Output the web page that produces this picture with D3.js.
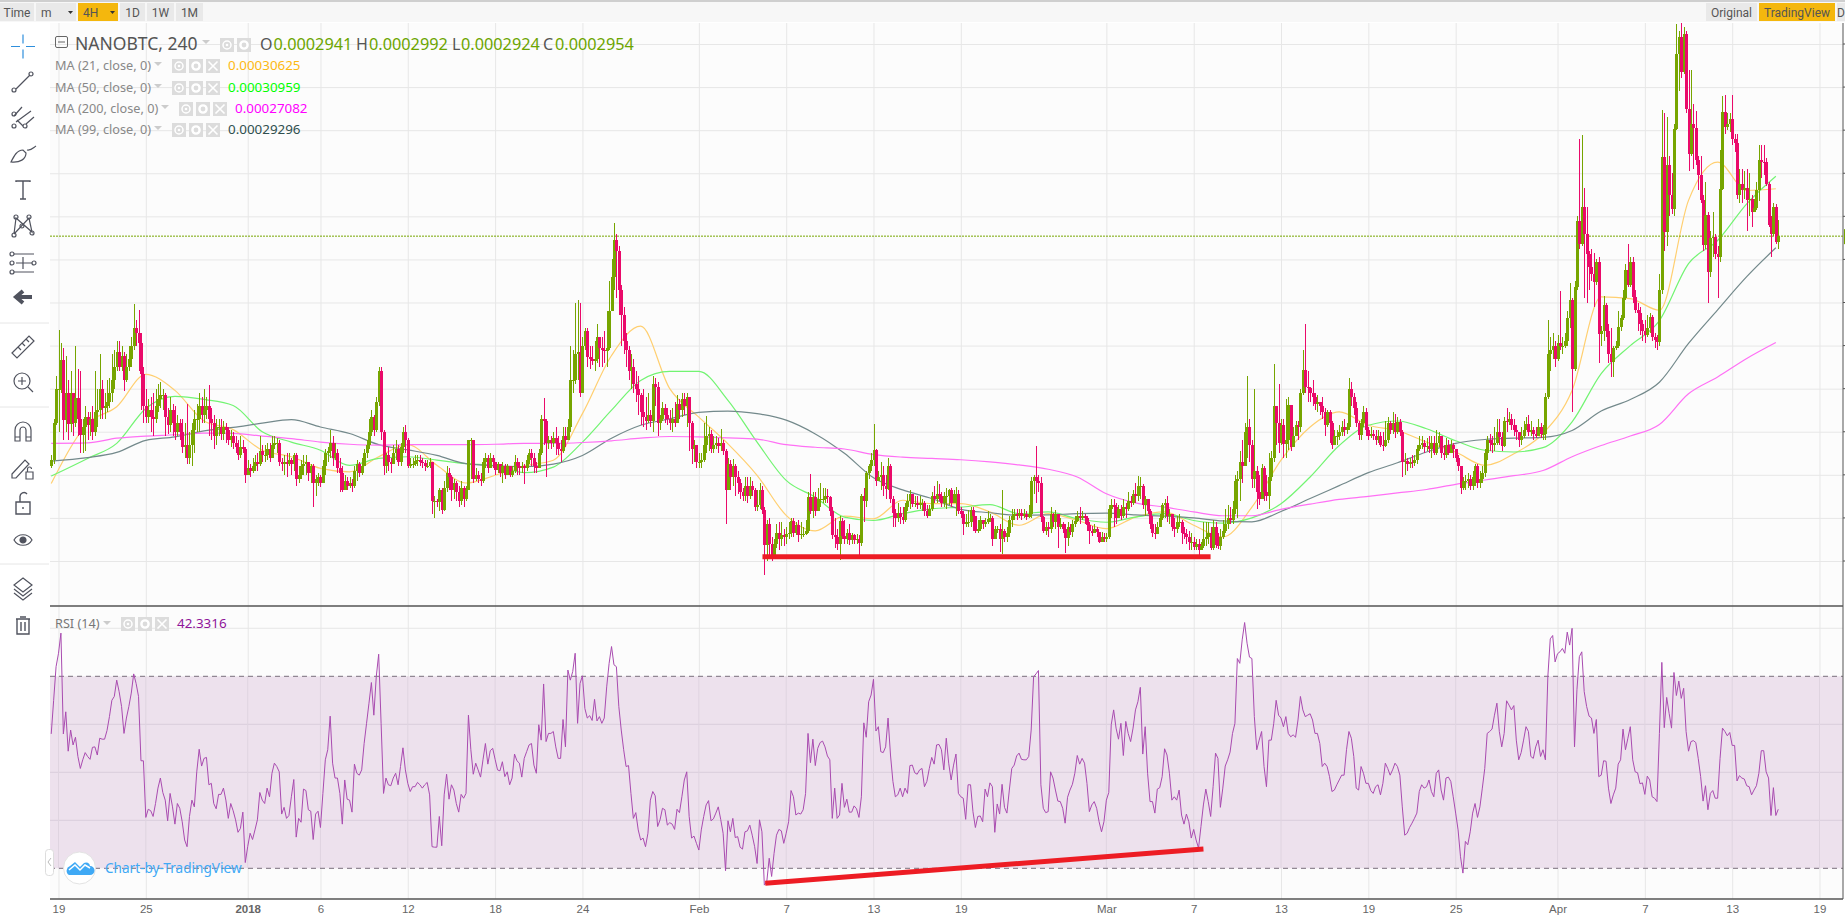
<!DOCTYPE html>
<html>
<head>
<meta charset="utf-8">
<script src="https://cdn.jsdelivr.net/npm/d3@7"></script>
<style>
  body { margin: 0; background: #fff; overflow: hidden; }
  svg { display: block; font-family: "Noto Sans", "Open Sans", sans-serif; }
</style>
</head>
<body>
<div id="chart"></div>
<script>
// NANOBTC 4H, prices are in units of 0.0000001 BTC
// first close is only there so the first bar has an open

// closes, one row per day (first row is the last three bars of Dec 18)
const closes = [2420,
  2435,2520,2600,
  2600,2667,2528,2590,2517,2590,
  2520,2578,2530,2492,2510,2535,
  2515,2530,2500,2545,2550,2600,
  2555,2560,2570,2590,2620,2650,
  2685,2650,2675,2620,2650,2670,
  2700,2740,2730,2705,2635,2560,
  2535,2550,2535,2530,2560,2575,
  2585,2585,2535,2515,2550,2520,
  2500,2520,2500,2465,2470,2440,
  2470,2505,2530,2530,2560,2540,
  2550,2560,2530,2520,2490,2510,
  2510,2495,2510,2505,2480,2490,
  2475,2465,2445,2465,2460,2400,
  2415,2410,2420,2430,2425,2455, // Jan 1
  2445,2445,2460,2440,2470,2475,
  2475,2430,2425,2430,2425,2435,
  2425,2445,2390,2400,2420,2425,
  2430,2405,2420,2380,2390,2395,
  2380,2420,2450,2455,2475,2440,
  2450,2415,2405,2365,2385,2375,
  2380,2375,2410,2425,2405,2420,
  2450,2470,2500,2535,2505,2570,
  2640,2500,2420,2445,2430,2425,
  2450,2460,2430,2465,2500,2480,
  2420,2425,2425,2432,2435,2430,
  2428,2420,2420,2430,2340,2340,
  2338,2365,2318,2370,2405,2395,
  2365,2380,2360,2340,2370,2345,
  2365,2480,2480,2390,2400,2390,
  2385,2430,2440,2415,2440,2430,
  2412,2425,2405,2420,2400,2420,
  2400,2410,2430,2420,2415,2420,
  2415,2435,2450,2440,2420,2415,
  2450,2530,2525,2475,2480,2475,
  2485,2475,2460,2455,2490,2480,
  2510,2620,2620,2680,2685,2590,
  2700,2735,2674,2668,2665,2668,
  2720,2695,2690,2687,2695,2780,
  2860,2945,2920,2830,2770,2710,
  2690,2640,2650,2610,2600,2585,
  2545,2535,2525,2540,2525,2610,
  2605,2520,2530,2555,2540,2530,
  2520,2530,2520,2565,2550,2575,
  2560,2580,2520,2460,2470,2430,
  2430,2435,2470,2490,2495,2460, // Feb 1
  2470,2475,2468,2475,2455,2365,
  2425,2395,2420,2395,2380,2360,
  2350,2375,2350,2375,2365,2325,
  2330,2365,2318,2236,2287,2240,
  2215,2240,2265,2250,2260,2255,
  2262,2264,2294,2265,2283,2260,
  2262,2262,2270,2348,2315,2348,
  2315,2345,2345,2345,2350,2348,
  2315,2260,2255,2240,2294,2258,
  2250,2265,2248,2260,2248,2250,
  2242,2350,2340,2405,2420,2435,
  2457,2385,2395,2400,2375,2368,
  2420,2345,2312,2300,2312,2302,
  2295,2325,2340,2355,2332,2335,
  2330,2335,2335,2315,2305,2320,
  2350,2345,2355,2352,2335,2350,
  2350,2365,2335,2355,2355,2315,
  2310,2285,2290,2290,2318,2305,
  2270,2275,2295,2285,2290,2298,
  2300,2252,2275,2275,2250,2270,
  2255,2265,2295,2305,2310,2305,
  2312,2305,2308,2303,2310,2385,
  2395,2385,2380,2303,2270,2280,
  2275,2310,2290,2310,2280,2285,
  2275,2253,2280,2268,2285,2292,
  2305,2300,2305,2300,2283,2270,
  2265,2275,2268,2245,2255,2250,
  2255,2320,2330,2325,2300,2320, // Mar 1
  2305,2325,2320,2340,2335,2355,
  2350,2375,2375,2330,2345,2315,
  2285,2265,2262,2280,2300,2330,
  2335,2305,2310,2280,2275,2290,
  2290,2265,2262,2255,2245,2245,
  2232,2240,2225,2235,2250,2255,
  2265,2230,2280,2238,2235,2255,
  2270,2285,2300,2295,2320,2385,
  2390,2430,2420,2500,2510,2470,
  2390,2410,2360,2345,2415,2360,
  2350,2395,2440,2560,2520,2475,
  2515,2472,2480,2561,2465,2490,
  2515,2510,2589,2643,2604,2602,
  2590,2580,2565,2570,2560,2545,
  2515,2545,2520,2470,2490,2490,
  2500,2510,2505,2510,2600,2580,
  2555,2520,2492,2520,2546,2503,
  2490,2495,2490,2480,2490,2470,
  2468,2480,2520,2505,2520,2500,
  2522,2500,2430,2432,2425,2430,
  2428,2435,2460,2470,2475,2465,
  2468,2460,2475,2450,2475,2490,
  2450,2445,2470,2450,2470,2460,
  2440,2420,2370,2385,2385,2390,
  2375,2395,2420,2380,2390,2405,
  2450,2480,2475,2470,2475,2500,
  2488,2468,2526,2522,2530,2515,
  2505,2500,2480,2490,2505,2519,
  2500,2505,2495,2490,2510,2495,
  2495,2580,2680,2690,2700,2670,
  2705,2700,2700,2710,2765,2805, // Apr 1
  2646,2836,2990,2935,3021,2960,
  2913,2882,2865,2847,2895,2728,
  2735,2795,2735,2680,2662,2695,
  2700,2743,2765,2810,2875,2840,
  2895,2813,2782,2775,2750,2735,
  2725,2740,2766,2720,2712,2708,
  2828,3137,2964,3118,3050,3018,
  3203,3377,3416,3335,3424,3250,
  3145,3215,3205,3130,3095,3037,
  2933,3002,2871,2950,2952,2913,
  2905,3064,3242,3207,3215,3226,
  3180,3170,3049,3075,3060,3065,
  3037,3040,3010,3020,3060,3130,
  3127,3125,3076,2979,2960,3022,
  2941,2954];

const highs = [
  2445,2530,2630,
  2737,2705,2694,2675,2620,2640,
  2590,2698,2645,2640,2530,2560,
  2545,2545,2560,2640,2600,2680,
  2620,2590,2620,2625,2680,2690,
  2710,2710,2700,2685,2680,2700,
  2720,2797,2760,2782,2730,2650,
  2600,2575,2580,2590,2600,2610,
  2615,2600,2590,2555,2580,2565,
  2560,2540,2530,2530,2520,2565,
  2500,2520,2550,2565,2590,2580,
  2600,2580,2608,2555,2540,2530,
  2530,2530,2525,2520,2510,2505,
  2500,2490,2480,2490,2480,2465,
  2435,2425,2440,2445,2450,2490,
  2470,2470,2475,2475,2490,2490,
  2485,2480,2440,2445,2450,2450,
  2440,2450,2450,2420,2435,2445,
  2445,2430,2425,2425,2400,2405,
  2400,2435,2460,2465,2504,2490,
  2475,2460,2440,2420,2400,2395,
  2395,2390,2420,2435,2430,2440,
  2460,2480,2530,2550,2540,2580,
  2650,2650,2505,2450,2465,2440,
  2470,2480,2470,2475,2510,2515,
  2485,2440,2440,2445,2445,2445,
  2440,2435,2435,2440,2415,2350,
  2345,2370,2370,2385,2420,2415,
  2400,2390,2385,2375,2385,2375,
  2375,2482,2485,2480,2415,2410,
  2405,2440,2450,2445,2450,2445,
  2430,2430,2425,2430,2425,2425,
  2420,2420,2445,2440,2430,2430,
  2425,2445,2460,2460,2450,2430,
  2460,2540,2578,2530,2490,2490,
  2500,2510,2490,2480,2510,2510,
  2530,2700,2690,2800,2805,2800,
  2720,2740,2740,2700,2700,2710,
  2750,2715,2720,2735,2780,2850,
  2900,2985,2960,2930,2840,2790,
  2730,2700,2680,2670,2640,2630,
  2590,2600,2580,2590,2550,2630,
  2625,2615,2540,2570,2565,2555,
  2550,2555,2570,2585,2575,2590,
  2590,2590,2580,2525,2480,2465,
  2450,2450,2520,2537,2510,2505,
  2490,2490,2485,2507,2480,2460,
  2440,2435,2437,2425,2410,2390,
  2370,2395,2395,2395,2385,2370,
  2365,2380,2375,2325,2295,2300,
  2255,2250,2285,2290,2290,2275,
  2280,2290,2300,2300,2290,2295,
  2290,2280,2295,2360,2403,2360,
  2360,2370,2380,2370,2370,2368,
  2352,2325,2300,2275,2305,2300,
  2295,2275,2285,2265,2262,2262,
  2260,2355,2370,2410,2425,2450,
  2518,2460,2410,2430,2420,2400,
  2440,2425,2350,2320,2335,2325,
  2325,2335,2355,2365,2352,2350,
  2350,2350,2345,2340,2330,2330,
  2360,2375,2385,2378,2360,2360,
  2370,2368,2370,2365,2372,2365,
  2325,2315,2310,2318,2325,2325,
  2300,2295,2305,2295,2300,2315,
  2310,2305,2282,2282,2285,2364,
  2275,2280,2305,2320,2320,2320,
  2320,2320,2320,2315,2330,2395,
  2400,2468,2400,2396,2305,2290,
  2290,2325,2312,2318,2310,2300,
  2290,2285,2290,2285,2295,2305,
  2315,2325,2315,2310,2305,2290,
  2282,2285,2280,2268,2268,2265,
  2265,2330,2345,2345,2335,2330,
  2330,2345,2335,2360,2350,2365,
  2380,2398,2395,2378,2350,2345,
  2320,2305,2285,2290,2310,2335,
  2345,2350,2320,2310,2300,2305,
  2310,2295,2280,2275,2270,2265,
  2255,2250,2250,2245,2290,2290,
  2290,2280,2295,2290,2265,2275,
  2295,2320,2330,2325,2340,2400,
  2410,2455,2480,2520,2630,2530,
  2480,2600,2420,2400,2425,2420,
  2400,2450,2455,2658,2560,2610,
  2530,2530,2575,2580,2530,2510,
  2525,2525,2600,2690,2750,2640,
  2605,2620,2590,2585,2570,2580,
  2555,2550,2550,2525,2505,2505,
  2515,2525,2530,2520,2625,2615,
  2590,2570,2525,2530,2560,2555,
  2510,2510,2505,2505,2505,2500,
  2500,2525,2535,2525,2545,2542,
  2535,2530,2505,2450,2440,2440,
  2445,2445,2470,2490,2490,2480,
  2485,2490,2490,2490,2505,2500,
  2480,2470,2485,2480,2480,2475,
  2455,2445,2420,2395,2400,2405,
  2400,2410,2425,2425,2410,2420,
  2460,2490,2495,2490,2510,2530,
  2530,2500,2535,2555,2545,2542,
  2530,2515,2500,2510,2525,2535,
  2540,2525,2510,2510,2530,2520,
  2515,2590,2760,2720,2730,2710,
  2725,2826,2720,2730,2780,2845,
  2810,2850,3000,3180,3188,3065,
  3021,2920,2925,2915,2900,2905,
  2745,2815,2800,2750,2740,2700,
  2710,2780,2770,2830,2890,2935,
  2905,2905,2830,2800,2790,2760,
  2760,2770,2775,2770,2730,2725,
  2865,3246,3240,3230,3140,3100,
  3215,3447,3430,3450,3440,3430,
  3340,3340,3260,3245,3140,3140,
  3050,3079,3010,2965,3010,2960,
  2930,3155,3280,3282,3240,3240,
  3282,3190,3190,3110,3110,3105,
  3110,3100,3050,3040,3080,3165,
  3165,3165,3135,3080,3000,3030,
  3029,2992];

const lows = [
  2415,2425,2515,
  2500,2590,2480,2500,2480,2500,
  2490,2510,2490,2450,2450,2455,
  2480,2490,2480,2490,2510,2530,
  2530,2530,2545,2555,2570,2600,
  2640,2640,2640,2595,2615,2640,
  2650,2690,2700,2640,2550,2520,
  2520,2520,2500,2490,2520,2545,
  2555,2550,2490,2495,2500,2490,
  2480,2490,2480,2450,2440,2425,
  2425,2420,2450,2500,2500,2520,
  2520,2530,2490,2480,2460,2470,
  2490,2480,2480,2475,2470,2465,
  2460,2450,2435,2440,2450,2380,
  2400,2395,2405,2410,2410,2420,
  2430,2430,2435,2430,2440,2460,
  2450,2420,2410,2400,2395,2420,
  2400,2410,2375,2380,2390,2400,
  2400,2385,2380,2325,2352,2375,
  2372,2380,2400,2430,2440,2420,
  2435,2405,2360,2360,2365,2365,
  2370,2360,2370,2385,2395,2400,
  2420,2440,2460,2490,2490,2500,
  2560,2480,2400,2405,2410,2405,
  2430,2435,2420,2420,2450,2450,
  2415,2415,2415,2420,2420,2420,
  2415,2410,2415,2415,2310,2300,
  2325,2315,2310,2315,2360,2365,
  2340,2345,2340,2325,2330,2325,
  2340,2365,2390,2380,2385,2380,
  2375,2380,2415,2405,2415,2415,
  2400,2405,2395,2380,2390,2400,
  2395,2395,2405,2400,2400,2405,
  2378,2410,2425,2420,2405,2405,
  2415,2445,2470,2395,2460,2460,
  2465,2445,2445,2430,2450,2465,
  2480,2500,2590,2610,2620,2580,
  2640,2690,2650,2645,2655,2640,
  2660,2650,2650,2660,2650,2690,
  2780,2830,2810,2770,2700,2680,
  2650,2620,2600,2590,2570,2540,
  2515,2510,2505,2520,2510,2500,
  2560,2490,2505,2525,2520,2515,
  2505,2500,2510,2520,2530,2535,
  2540,2510,2455,2425,2430,2415,
  2415,2415,2430,2450,2455,2450,
  2450,2460,2450,2455,2445,2287,
  2365,2365,2375,2350,2355,2345,
  2340,2340,2335,2345,2350,2315,
  2315,2320,2310,2167,2200,2210,
  2200,2205,2230,2225,2235,2235,
  2240,2250,2255,2255,2260,2245,
  2250,2255,2260,2265,2310,2300,
  2305,2340,2325,2335,2335,2335,
  2305,2250,2230,2225,2202,2250,
  2240,2240,2238,2240,2240,2240,
  2215,2235,2290,2325,2390,2410,
  2420,2375,2385,2365,2350,2345,
  2365,2335,2280,2280,2290,2287,
  2285,2290,2315,2320,2325,2325,
  2320,2320,2315,2305,2300,2308,
  2315,2335,2335,2340,2325,2325,
  2320,2330,2325,2340,2305,2310,
  2300,2260,2280,2280,2280,2270,
  2265,2265,2270,2275,2280,2285,
  2290,2235,2250,2265,2220,2217,
  2245,2245,2255,2280,2295,2295,
  2300,2295,2300,2295,2300,2300,
  2355,2335,2360,2290,2265,2260,
  2255,2265,2280,2275,2230,2275,
  2265,2218,2235,2260,2255,2278,
  2290,2285,2295,2285,2270,2240,
  2258,2265,2255,2242,2245,2245,
  2245,2250,2300,2280,2285,2300,
  2295,2300,2300,2315,2325,2330,
  2335,2340,2345,2320,2305,2310,
  2275,2255,2250,2270,2280,2295,
  2300,2290,2285,2270,2255,2265,
  2280,2240,2250,2240,2225,2225,
  2225,2225,2215,2225,2230,2235,
  2240,2225,2225,2230,2228,2225,
  2250,2265,2275,2285,2285,2310,
  2300,2340,2380,2420,2440,2430,
  2370,2370,2320,2330,2350,2340,
  2340,2320,2385,2430,2470,2450,
  2470,2440,2440,2457,2455,2465,
  2495,2480,2500,2585,2590,2570,
  2570,2560,2550,2545,2540,2530,
  2490,2510,2475,2460,2475,2470,
  2480,2490,2490,2495,2505,2560,
  2540,2510,2480,2480,2510,2490,
  2480,2485,2480,2470,2475,2465,
  2455,2465,2475,2495,2495,2485,
  2495,2490,2395,2400,2410,2415,
  2415,2420,2425,2455,2460,2450,
  2455,2450,2440,2445,2445,2465,
  2440,2435,2440,2445,2450,2440,
  2430,2410,2355,2365,2365,2370,
  2365,2365,2375,2370,2370,2380,
  2395,2435,2455,2450,2455,2470,
  2470,2455,2465,2500,2515,2505,
  2490,2480,2465,2470,2485,2505,
  2490,2490,2480,2485,2490,2485,
  2480,2480,2575,2640,2670,2650,
  2665,2690,2680,2695,2700,2740,
  2546,2640,2830,2925,2930,2810,
  2800,2830,2850,2790,2840,2660,
  2700,2710,2720,2660,2627,2627,
  2690,2695,2735,2760,2805,2835,
  2835,2800,2775,2735,2725,2710,
  2705,2720,2730,2710,2695,2690,
  2700,2820,2920,2930,3000,3006,
  3000,3200,3290,3320,3330,3240,
  3105,3140,3110,3120,3060,3030,
  2920,2925,2800,2860,2905,2900,
  2810,2895,3060,3190,3200,3195,
  3165,3150,3040,3030,3030,3040,
  2967,3000,2975,3010,3015,3035,
  3090,3095,3070,2975,2905,2955,
  2935,2924];

// moving averages, read every two days (days counted from Dec 19)
const maDays = [-0.5,2,4,6,8,10,12,14,16,18,
  20,22,24,26,28,30,32,34,36,38,
  40,42,44,46,48,50,52,54,56,58,
  60,62,64,66,68,70,72,74,76,78,
  80,82,84,86,88,90,92,94,96,98,
  100,102,104,106,108,110,112,114,116,118];
const ma21 = [2380,2519,2558,2633,2596,2525,2505,2457,2442,2415,
  2407,2442,2470,2422,2381,2399,2421,2434,2542,2677,
  2745,2600,2534,2472,2399,2306,2270,2304,2298,2341,
  2333,2333,2314,2283,2310,2294,2275,2302,2314,2283,
  2256,2325,2434,2511,2546,2515,2503,2476,2453,2422,
  2449,2496,2596,2813,2809,2782,3037,3126,3060,3064];
const ma50 = [2397,2438,2473,2554,2582,2575,2561,2500,2476,2457,
  2422,2438,2442,2434,2426,2421,2405,2418,2476,2550,
  2619,2640,2640,2573,2476,2387,2348,2302,2294,2310,
  2321,2325,2331,2310,2314,2298,2290,2302,2310,2294,
  2288,2300,2333,2395,2468,2515,2525,2507,2479,2457,
  2453,2463,2523,2635,2700,2758,2890,2944,3029,3093];
const ma99 = [2432,2440,2452,2480,2488,2502,2510,2520,2528,2511,
  2496,2470,2458,2445,2426,2421,2419,2425,2445,2485,
  2515,2530,2545,2548,2542,2527,2495,2450,2393,2365,
  2345,2320,2312,2306,2307,2310,2311,2307,2304,2300,
  2293,2291,2315,2345,2375,2405,2428,2453,2473,2482,
  2485,2487,2503,2548,2575,2615,2705,2783,2860,2927];
const ma200 = [2473,2474,2485,2490,2493,2497,2496,2490,2484,2476,
  2471,2469,2470,2470,2470,2471,2473,2473,2475,2479,
  2485,2489,2488,2486,2483,2470,2464,2460,2447,2441,
  2438,2435,2430,2423,2413,2395,2356,2335,2325,2314,
  2305,2305,2320,2332,2343,2350,2358,2366,2378,2388,
  2398,2410,2442,2468,2490,2517,2588,2627,2670,2707];

// RSI (14), one value per bar, same rows as closes
const rsi = [
  58,65,72,
  74.8,79,58,62.6,54.4,58.8,
  55.7,57.3,53.3,50.8,52.6,54.1,
  53.3,52.7,55.2,55.3,53.6,57.1,
  56.9,56.9,58.7,61.6,65,65.8,
  69.2,66.8,63.7,58.1,61.3,63.7,
  66.5,70.5,68.5,65.8,52.4,52.4,
  40.6,42.3,42,40.8,43.5,46.7,
  48.8,45.8,44.2,39.9,45.6,42.8,
  39.2,43.5,42.5,39.7,35.9,34.5,
  40.8,44.2,42.8,50.1,54.8,51.3,
  52.9,53.1,47.4,47.7,43.5,42.4,
  45.4,45.4,46.7,44.2,40.4,43.5,
  42,40.1,37.5,38.3,41.7,31.2,
  34.5,37.3,36,38,40.1,45.8,
  44.2,43.5,46.7,44.9,49.8,51.9,
  51.2,50.1,41.3,42.7,40.4,41,
  44.9,48.5,36.5,40.4,39.6,46.5,
  46.2,42.2,41.9,36,41.3,41.9,
  38.5,45.6,52.6,54.7,61.7,51.9,
  48.8,48.8,45.6,39.2,48.4,44.4,
  44.2,41.7,51.7,49.8,49.4,50.5,
  56,60.2,64.4,68.7,61.9,69.9,
  74.6,60.2,45.6,48.8,47.4,47.2,
  48.8,49.8,47.4,51.2,55.1,50.5,
  47.7,46,47,47,47.9,47.4,
  46.7,47.4,47.9,45.3,34.5,34.4,
  34.4,40.8,34.7,45.3,49.6,44.4,
  47.4,46.3,43.5,41.7,45.4,44.6,
  45.6,61.9,54.7,49.6,51.9,50.5,
  49,52.6,56,51.7,54.5,55,
  52.7,50.5,50.3,52.2,49.1,50.1,
  47.4,48.8,53.8,52.4,51.9,49,
  52.9,54.3,55.7,56,51.5,49.8,
  59.9,56.7,68.4,56.4,58.1,58.1,
  58.5,55.3,52.9,52.9,61,55.3,
  71.3,69.2,71,74.8,60.2,68.5,
  70.1,63.3,61.3,61.8,60.8,65.2,
  60.7,61.6,60.2,61.3,67.8,72.7,
  76.2,72.4,72,63.7,58.8,54.7,
  51.2,51.4,45.6,40.4,41.6,38,
  35.9,36.3,34.5,37.3,44.2,46,
  45.1,38.7,40.1,42.5,42.2,39,
  39.5,39.2,38.1,42.3,41.6,44.9,
  48.4,50.1,40.8,36.3,36.7,35.2,
  33.8,38,40.8,43.2,44.1,39.9,
  40.3,41.5,42.8,40.2,37.3,29.5,
  39.9,37.6,40.4,36.4,36.6,34.4,
  34,37.6,37.8,39,36.9,34.5,
  31,40.1,37.6,26.5,27.2,32.1,
  28.3,33.1,36.9,38.1,37.8,35.2,
  37.3,39.7,46.2,44.9,41.1,41.5,
  41.3,42.2,45.6,58.1,52,56.9,
  51.4,55,56.2,56.5,55.3,53.4,
  52.6,40.4,46.7,40.4,41.1,47.7,
  42.7,44.4,41.7,41.7,43,42.4,
  40.6,44.9,60.3,57.3,64.7,66.1,
  69.4,58.6,59.5,54.3,54.1,55.3,
  61.3,53.6,48.1,44.9,45.3,46.7,
  44.9,46.7,45.6,51.4,51.5,49.9,
  49.6,50.5,50.8,47,48.1,50.8,
  53.1,51.7,55.7,55.8,54.7,50.5,
  57.1,51.9,48.4,51.5,53.8,45.6,
  44.9,44.6,40.2,47.4,47.4,41.8,
  38.5,40.8,40.9,39.7,46.5,44.9,
  47.8,47,37.5,43.4,41.3,47.5,
  42.7,41.5,46.3,50.8,51.5,53.4,
  54,52.7,52.6,52.6,53.3,58.8,
  69.9,70.5,71.2,47.4,42.5,41.6,
  41.8,50.1,48.8,46.3,44,43.9,
  42.5,39.4,44.8,46.3,47.5,49.8,
  53.5,51.7,52.9,51.9,47.7,41.8,
  43.2,43.9,42.5,39.7,37.6,39.7,
  44.2,45.8,59.9,63,59.2,56.9,
  60.2,53.5,60.6,58.1,56.4,59.2,
  63,64.7,67.7,53.8,59.5,49.8,
  43.9,43.9,41.5,46.5,46.8,49.1,
  54.9,53.6,49.8,44.2,44.9,44.2,
  46.3,41.1,39.2,41.3,39.7,36.3,
  38.1,35.9,34.2,38.7,43.2,46.5,
  43.9,40.8,47,54,52.9,42.7,
  46.7,51.3,52.6,54.2,58.1,60.2,
  73.7,72.7,77.6,81.2,76.9,74,
  73.7,61.6,54.7,56.7,58.5,51.2,
  47,56.7,56.7,60.2,65,61.9,
  61.3,59.5,61.6,58.1,57.4,57.8,
  57.3,60.9,65.8,63,61.6,61.9,
  62.2,60.9,58.1,58.1,56,51.2,
  51.9,51.2,49.1,46,46.3,47.4,
  48.4,49.4,49.4,54.7,58.5,57.1,
  53.3,46.7,46.3,51.2,49.8,47.7,
  47.7,46.2,45.6,47,47.4,45.3,
  47.7,51.9,50.8,49.4,50.5,51.9,
  51.2,49.4,42.8,36.9,37.3,38.5,
  39.4,40.4,41.5,46,47.4,46.7,
  47,48.4,46,44.9,49.8,50.5,
  46.3,44.2,48.8,49,48.1,44.9,
  41.5,38,32.4,29,35.6,34.9,
  37.6,41.5,43.5,40.6,42.8,46.7,
  50.8,58.1,58.5,59,61.9,64.4,
  58.5,55.3,58.1,64.9,64,63,
  63.9,56.7,52.6,54.1,56.7,59.5,
  58.5,53.3,52.9,55.3,56.7,53.3,
  54.7,52.6,69.9,77.8,78.5,73,
  74.7,75.1,75.8,74.8,79.2,76.5,
  80,55.3,67.2,74.1,75.1,66.8,
  63.7,61.7,61.3,58.1,61,49.1,
  49.4,52.4,52.3,46.7,43.5,45.3,
  46.7,51.7,52.6,59,54.7,57.1,
  59.5,52.6,50.1,49.9,47.6,47.8,
  45.4,49.2,48.4,44.9,44.6,43.9,
  58.1,72.9,59.3,65.6,62.3,59.2,
  70.8,66,69,65.4,67.5,58.5,
  54.4,56.4,56.6,56.2,52.9,49.1,
  44,47.2,42.2,45.6,46.2,44.6,
  44.6,52.9,59.2,58.5,57.6,58.3,
  55.6,55.6,48.2,49.3,48.8,48.6,
  47.2,47,45.3,46.3,47.2,49.8,
  54.5,54.5,50.1,48.8,41,46.8,
  41,42.3];

// axis stuff
const tickDates = ["2017-12-19","2017-12-25","2018-01-01","2018-01-06","2018-01-12","2018-01-18","2018-01-24",
  "2018-02-01","2018-02-07","2018-02-13","2018-02-19","2018-03-01","2018-03-07","2018-03-13","2018-03-19",
  "2018-03-25","2018-04-01","2018-04-07","2018-04-13","2018-04-19"];
const tickLabels = ["19","25","2018","6","12","18","24","Feb","7","13","19","Mar","7","13","19","25","Apr","7","13","19"];
const priceTicks = [2200,2300,2400,2500,2600,2700,2800,2900,3000,3100,3200,3300,3400];
const rsiTicks = [40,50,60,80];
const lastClose = 2954;

// the two hand drawn red lines: [day from Dec 19, value]
const supportLine = [[48.37,2210],[79.16,2210]];
const rsiTrendLine = [[48.56,26.9],[78.67,34]];

// legend text
const maLegend = [
  {name: "MA (21, close, 0)", value: "0.00030625", color: "#fdb913"},
  {name: "MA (50, close, 0)", value: "0.00030959", color: "#00ff00"},
  {name: "MA (200, close, 0)", value: "0.00027082", color: "#ff00ff"},
  {name: "MA (99, close, 0)", value: "0.00029296", color: "#2f4f4f"}
];
const ohlcLegend = [["O","0.0002941",260,273.5],["H","0.0002992",356,369],["L","0.0002924",452,461],["C","0.0002954",543,555]];
const leftButtons = [["Time",0,34,false],["m",36,76,false],["4H",78,118,true],["1D",120,145,false],["1W",147,174,false],["1M",176,203,false]];
const rightButtons = [["Original",1706,1757,false],["TradingView",1759,1835,true],["D",1837,1845,false]];

const WIDTH = 1845, HEIGHT = 919;
const LEFT = 50, RIGHT = 1843, TOP = 23, MAIN_BOTTOM = 606, RSI_BOTTOM = 899;
const UP = "#76a500", DOWN = "#ea0a6a", GRID = "#e7e7e7";

const svg = d3.select("#chart").append("svg")
  .attr("width", WIDTH)
  .attr("height", HEIGHT);

svg.append("rect").attr("width", WIDTH).attr("height", HEIGHT).attr("fill", "#fff");
svg.append("rect").attr("x", LEFT).attr("y", TOP)
  .attr("width", RIGHT - LEFT).attr("height", RSI_BOTTOM - TOP).attr("fill", "#fcfcfc");

// scales
const xScale = d3.scaleUtc()
  .domain([new Date(Date.UTC(2017, 11, 19)), new Date(Date.UTC(2018, 3, 19))])
  .range([58.5, 1819.5]);
const yPrice = d3.scaleLinear().domain([2200, 3400]).range([561, 44]);
const yRsi = d3.scaleLinear().domain([30, 70]).range([868.3, 676.3]);

const DAY = 86400000;
const fromDay = d => new Date(Date.UTC(2017, 11, 19) + d * DAY);
// bar 0 is Dec 18 12:00, one bar every 4 hours
const barX = i => xScale(fromDay(-0.5 + i / 6));

svg.append("clipPath").attr("id", "mainClip").append("rect")
  .attr("x", LEFT).attr("y", TOP).attr("width", RIGHT - LEFT).attr("height", MAIN_BOTTOM - TOP);

// vertical grid + time axis
const tickTimes = tickDates.map(d => new Date(d + "T00:00:00Z"));
const xAxis = d3.axisBottom(xScale)
  .tickValues(tickTimes)
  .tickSize(-(RSI_BOTTOM - TOP))
  .tickPadding(6)
  .tickFormat((d, i) => tickLabels[i]);
const xG = svg.append("g").attr("transform", `translate(0,${RSI_BOTTOM})`).call(xAxis);
xG.select(".domain").remove();
xG.selectAll("line").attr("stroke", GRID);
xG.selectAll("text")
  .attr("fill", "#666").style("font-size", "11.5px")
  .style("font-weight", d => +d === +tickTimes[2] ? 600 : 400);

// horizontal grid of the price pane, labels fall outside the crop
const yAxis = d3.axisRight(yPrice).tickValues(priceTicks).tickSize(RIGHT - LEFT).tickFormat("");
const yG = svg.append("g").attr("transform", `translate(${LEFT},0)`).call(yAxis);
yG.select(".domain").remove();
yG.selectAll("line").attr("stroke", GRID).attr("stroke-width", 1);

// RSI band and grid
svg.append("rect")
  .attr("x", LEFT).attr("width", RIGHT - LEFT)
  .attr("y", yRsi(70)).attr("height", yRsi(30) - yRsi(70))
  .attr("fill", "#ede1ed");
svg.append("g").selectAll("line").data(rsiTicks).enter().append("line")
  .attr("x1", LEFT).attr("x2", RIGHT)
  .attr("y1", d => yRsi(d)).attr("y2", d => yRsi(d))
  .attr("stroke", d => d === 80 ? GRID : "#d9cedb");
svg.append("g").selectAll("line").data(tickTimes).enter().append("line")
  .attr("x1", d => xScale(d)).attr("x2", d => xScale(d))
  .attr("y1", yRsi(70)).attr("y2", yRsi(30))
  .attr("stroke", "#dfd4e0");
svg.append("g").selectAll("line").data([30, 70]).enter().append("line")
  .attr("x1", LEFT).attr("x2", RIGHT)
  .attr("y1", d => yRsi(d)).attr("y2", d => yRsi(d))
  .attr("stroke", "#7a6f7c").attr("stroke-dasharray", "5,4");

// pane borders
[MAIN_BOTTOM, RSI_BOTTOM].forEach(y => {
  svg.append("line").attr("x1", LEFT).attr("x2", RIGHT).attr("y1", y).attr("y2", y)
    .attr("stroke", "#555").attr("stroke-width", 1.4);
});
svg.append("line").attr("x1", RIGHT).attr("x2", RIGHT).attr("y1", TOP).attr("y2", RSI_BOTTOM)
  .attr("stroke", "#555");
svg.append("g").selectAll("line").data(priceTicks).enter().append("line")
  .attr("x1", RIGHT).attr("x2", RIGHT + 3)
  .attr("y1", d => yPrice(d)).attr("y2", d => yPrice(d)).attr("stroke", "#555");

const main = svg.append("g").attr("clip-path", "url(#mainClip)");

// moving averages
const maLine = d3.line().x((d, i) => xScale(fromDay(maDays[i]))).y(d => yPrice(d)).curve(d3.curveMonotoneX);
[[ma21, "#ffcf70"], [ma50, "#72f472"], [ma99, "#73898b"], [ma200, "#ff70f5"]].forEach(m => {
  main.append("path").datum(m[0]).attr("d", maLine)
    .attr("fill", "none").attr("stroke", m[1]).attr("stroke-width", 1.2);
});

// last price line
main.append("line").attr("x1", LEFT).attr("x2", RIGHT)
  .attr("y1", yPrice(lastClose)).attr("y2", yPrice(lastClose))
  .attr("stroke", "#76a500").attr("stroke-dasharray", "2,1");
svg.append("rect").attr("x", RIGHT + 1).attr("y", yPrice(lastClose) - 7)
  .attr("width", 2).attr("height", 15).attr("fill", "#76a500");

// candles, each body runs from the previous close to its own close
const bars = d3.range(1, closes.length);
const barColor = i => closes[i] >= closes[i - 1] ? UP : DOWN;
const candles = main.append("g").attr("shape-rendering", "crispEdges");
candles.append("g").selectAll("rect").data(bars).enter().append("rect")
  .attr("x", i => Math.round(barX(i - 1))).attr("width", 1)
  .attr("y", i => yPrice(highs[i - 1]))
  .attr("height", i => yPrice(lows[i - 1]) - yPrice(highs[i - 1]))
  .attr("fill", barColor);
candles.append("g").selectAll("rect").data(bars).enter().append("rect")
  .attr("x", i => Math.round(barX(i - 1)) - 1).attr("width", 3)
  .attr("y", i => yPrice(Math.max(closes[i], closes[i - 1])))
  .attr("height", i => Math.max(1, Math.abs(yPrice(closes[i]) - yPrice(closes[i - 1]))))
  .attr("fill", barColor);

// RSI line
const rsiLine = d3.line().x((d, i) => barX(i)).y(d => yRsi(d));
svg.append("path").datum(rsi).attr("d", rsiLine)
  .attr("fill", "none").attr("stroke", "#a94bb0").attr("stroke-width", 1);

// hand drawn red lines
svg.append("line")
  .attr("x1", xScale(fromDay(supportLine[0][0]))).attr("y1", yPrice(supportLine[0][1]))
  .attr("x2", xScale(fromDay(supportLine[1][0]))).attr("y2", yPrice(supportLine[1][1]))
  .attr("stroke", "#ed1c24").attr("stroke-width", 5);
svg.append("line")
  .attr("x1", xScale(fromDay(rsiTrendLine[0][0]))).attr("y1", yRsi(rsiTrendLine[0][1]))
  .attr("x2", xScale(fromDay(rsiTrendLine[1][0]))).attr("y2", yRsi(rsiTrendLine[1][1]))
  .attr("stroke", "#ed1c24").attr("stroke-width", 5);

// top bar
svg.append("rect").attr("width", WIDTH).attr("height", 22).attr("fill", "#f7f7f7");
svg.append("rect").attr("width", WIDTH).attr("y", 0).attr("height", 2).attr("fill", "#cfcfcf");
function addButton(b) {
  const color = b[3] ? "#f4b70d" : "#e9e9e9";
  svg.append("rect").attr("x", b[1]).attr("y", 3).attr("width", b[2] - b[1]).attr("height", 18).attr("fill", color);
  const hasCaret = b[0] === "m" || b[0] === "4H";
  svg.append("text")
    .attr("x", hasCaret ? b[1] + 5 : (b[1] + b[2]) / 2)
    .attr("y", 16.5)
    .attr("text-anchor", hasCaret ? "start" : "middle")
    .attr("fill", "#555").style("font-family", "Roboto").style("font-size", "12px")
    .text(b[0]);
  if (hasCaret) {
    svg.append("path").attr("d", `M${b[2] - 8},11h5l-2.5,3z`).attr("fill", "#333");
  }
}
leftButtons.forEach(addButton);
rightButtons.forEach(addButton);

// legend
function legendIcons(x, y, kinds) {
  kinds.forEach((k, i) => {
    const g = svg.append("g").attr("transform", `translate(${x + i * 17 + 7},${y})`);
    g.append("rect").attr("x", -7).attr("y", -7).attr("width", 14).attr("height", 14).attr("fill", "#dcdcdc");
    if (k === "eye") {
      g.append("circle").attr("r", 4).attr("fill", "none").attr("stroke", "#fff").attr("stroke-width", 1.5);
      g.append("circle").attr("r", 1.3).attr("fill", "#fff");
    } else if (k === "gear") {
      g.append("circle").attr("r", 3.6).attr("fill", "none").attr("stroke", "#fff").attr("stroke-width", 2.4);
    } else {
      g.append("path").attr("d", "M-4.5,-4.5L4.5,4.5M4.5,-4.5L-4.5,4.5").attr("stroke", "#fff").attr("stroke-width", 1.6);
    }
  });
}
function caret(x, y) {
  svg.append("path").attr("d", `M${x - 4},${y - 2}h8l-4,4z`).attr("fill", "#ccc");
}

svg.append("rect").attr("x", 55.5).attr("y", 36.5).attr("width", 12).attr("height", 11).attr("rx", 1.5)
  .attr("fill", "none").attr("stroke", "#666");
svg.append("line").attr("x1", 58).attr("x2", 65).attr("y1", 42).attr("y2", 42).attr("stroke", "#666");
svg.append("text").attr("x", 75).attr("y", 50).attr("fill", "#555").style("font-size", "17.5px").text("NANOBTC, 240");
caret(206, 42);
legendIcons(220, 45, ["eye", "gear"]);
ohlcLegend.forEach(d => {
  svg.append("text").attr("x", d[2]).attr("y", 50).attr("fill", "#555").style("font-size", "16px").text(d[0]);
  svg.append("text").attr("x", d[3]).attr("y", 50).attr("fill", "#6ca500").style("font-size", "16.3px").text(d[1]);
});

const maRowY = [65, 87, 108, 129];
maLegend.forEach((d, i) => {
  const shift = d.name.includes("200") ? 7 : 0;
  const y = maRowY[i];
  svg.append("text").attr("x", 55).attr("y", y + 5).attr("fill", "#888").style("font-size", "12.7px").text(d.name);
  caret(158 + shift, y - 1);
  legendIcons(172 + shift, y + 1, ["eye", "gear", "x"]);
  svg.append("text").attr("x", 228 + shift).attr("y", y + 5).attr("fill", d.color).style("font-size", "13.4px").text(d.value);
});

svg.append("text").attr("x", 55).attr("y", 628).attr("fill", "#777").style("font-size", "12.7px").text("RSI (14)");
caret(107, 623);
legendIcons(121, 624, ["eye", "gear", "x"]);
svg.append("text").attr("x", 177).attr("y", 628).attr("fill", "#8e1599").style("font-size", "13.4px").text("42.3316");

// watermark
svg.append("rect").attr("x", 45.5).attr("y", 849.5).attr("width", 8).attr("height", 26).attr("rx", 3)
  .attr("fill", "#fff").attr("stroke", "#ddd");
svg.append("path").attr("d", "M51,858l-3,4l3,4").attr("fill", "none").attr("stroke", "#bbb");
svg.append("circle").attr("cx", 79.5).attr("cy", 868).attr("r", 16).attr("fill", "#fff").attr("stroke", "#e3e3e3");
svg.append("path")
  .attr("d", "M69,875 a5,5 0 0 1 1,-9 l5,-4 l5,5 l4,-4 a4,4 0 0 1 6,3 a4,4 0 0 1 0,9 z")
  .attr("fill", "#3fa9f5");
svg.append("path").attr("d", "M69,870l6,-5l5,5l5,-5l5,3").attr("fill", "none").attr("stroke", "#fff").attr("stroke-width", 1.5);
svg.append("text").attr("x", 105).attr("y", 873).attr("fill", "#3fa9f5").style("font-size", "13.6px").text("Chart-by-TradingView");

// left toolbar
const INK = "#50535e";
[323, 407, 564].forEach(y => {
  svg.append("line").attr("x1", 0).attr("x2", 49).attr("y1", y).attr("y2", y).attr("stroke", "#e6e6e6");
});
function tool(y, draw) {
  const g = svg.append("g").attr("transform", `translate(23,${y})`)
    .attr("fill", "none").attr("stroke", INK).attr("stroke-width", 1.2);
  draw(g);
}
const dot = (g, x, y) => g.append("circle").attr("cx", x).attr("cy", y).attr("r", 2);
tool(46.5, g => g.append("path").attr("d", "M-12,0H-3M3,0H12M0,-12V-3M0,3V12").attr("stroke", "#2f8fdc"));
tool(82, g => { g.append("path").attr("d", "M-7,7L7,-7"); dot(g, -9, 8); dot(g, 8, -8); });
tool(118, g => {
  g.append("path").attr("d", "M-9,-2L-1,-11M-7,4L8,-7M3,6L11,-1M-6,2L0,8");
  dot(g, -9, 8); dot(g, 2, 8); dot(g, -9, -4);
});
tool(154, g => g.append("path").attr("d", "M-12,8C-9,2 -6,-4 0,-4L3,-1C3,5 -3,9 -12,8ZM4,-4C8,-3 10,-6 13,-8"));
tool(190, g => g.append("path").attr("d", "M-7,-8V-9H7V-8M0,-9V9M-3,9H3").attr("stroke-width", 1.4));
tool(226, g => {
  g.append("path").attr("d", "M-9,8L-7,-8L9,6L6,-8L-9,8");
  dot(g, -9, 9); dot(g, -7, -9); dot(g, 9, 7); dot(g, 6, -9); dot(g, -1, 0);
});
tool(263, g => {
  g.append("path").attr("d", "M-9,-9H11M-9,9H11M-7,0H9M0,-6V6");
  dot(g, -11, -9); dot(g, -11, 0); dot(g, -11, 9); dot(g, 11, 0);
});
tool(297, g => g.append("path").attr("d", "M9,0H-6M0,-6L-7,0L0,6").attr("stroke-width", 4));
tool(347, g => g.append("path").attr("d", "M-11,6L6,-11L11,-6L-6,11ZM-5,0L-2,3M-1,-4L2,-1M3,-8L6,-5"));
tool(382, g => {
  g.append("circle").attr("cx", -1).attr("cy", -1).attr("r", 8);
  g.append("path").attr("d", "M5,5L10,10M-5,-1H3M-1,-5V3");
});
tool(432, g => g.append("path").attr("d", "M-8,9V-2A8,8 0 0 1 8,-2V9H3V-2A3,3 0 0 0 -3,-2V9ZM-8,5H-3M3,5H8"));
tool(467, g => g.append("path").attr("d", "M-11,7L2,-7L6,-3L-7,11H-11ZM3,5H10V12H3ZM4.5,5V2A2,2 0 0 1 8.5,2"));
tool(503, g => g.append("path").attr("d", "M-7,-1H7V11H-7ZM-3,-1V-6A4,4 0 0 1 4,-9M0,4V6").attr("stroke-width", 1.4));
tool(540, g => {
  g.append("path").attr("d", "M-9,0C-5,-7 5,-7 9,0C5,7 -5,7 -9,0Z");
  g.append("circle").attr("r", 3).attr("fill", INK);
});
tool(588, g => g.append("path").attr("d", "M0,-10L9,-3L0,4L-9,-3ZM-9,1L0,8L9,1M-9,5L0,12L9,5"));
tool(625, g => g.append("path").attr("d", "M-7,-6H7M-3,-8H3M-6,-6V9H6V-6M-2,-3V6M2,-3V6").attr("stroke-width", 1.4));
</script>
</body>
</html>
